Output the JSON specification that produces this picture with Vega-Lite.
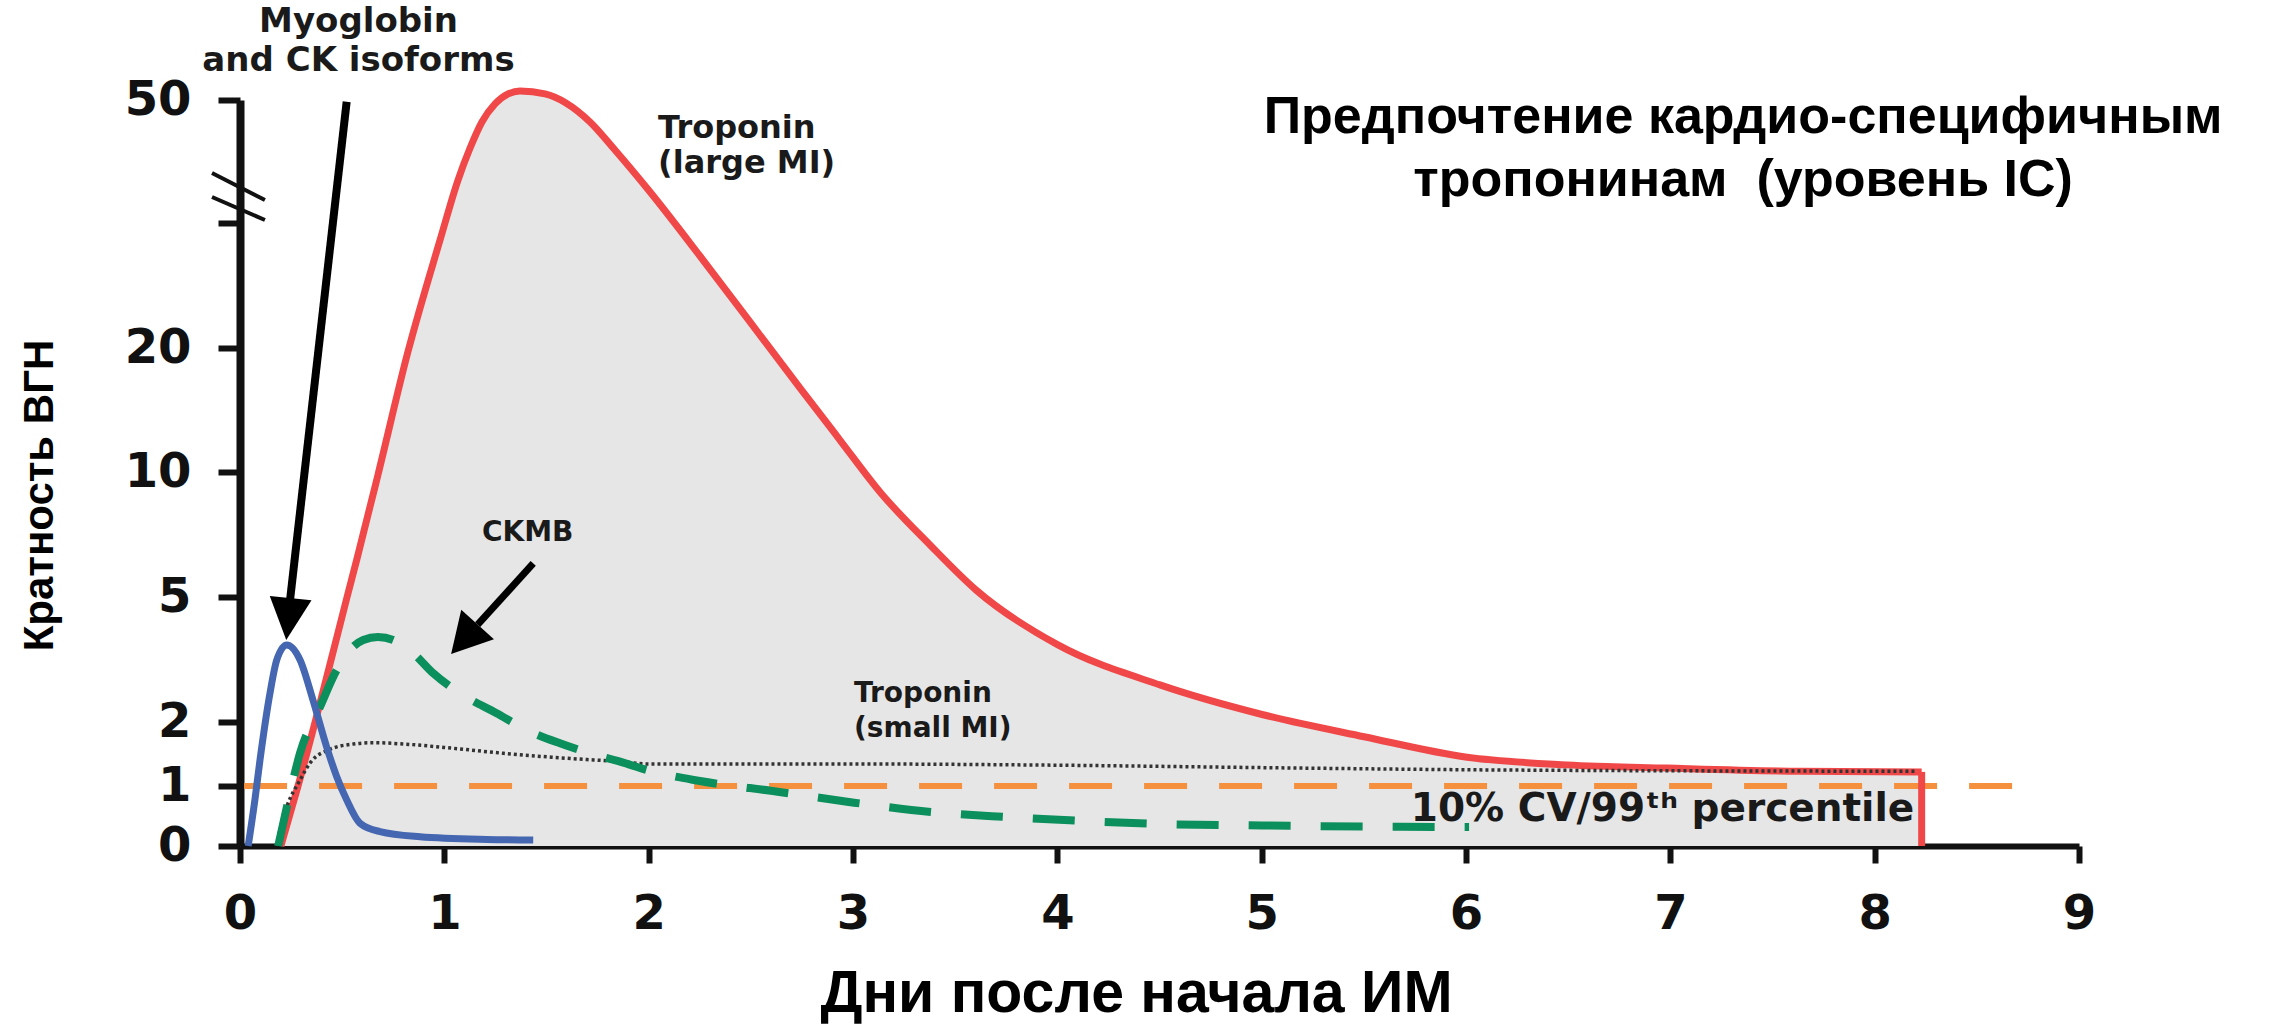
{
  "$schema": "https://vega.github.io/schema/vega-lite/v6.json",
  "width": 1839,
  "height": 746,
  "autosize": {"type": "none"},
  "padding": {"left": 240, "top": 100, "right": 190, "bottom": 180},
  "background": "white",
  "config": {"view": {"stroke": null}},
  "datasets": {
    "curves": [
      {"s": "large", "d": 0.2, "v": 0},
      {"s": "large", "d": 0.284, "v": 1.0},
      {"s": "large", "d": 0.392, "v": 2.46},
      {"s": "large", "d": 0.524, "v": 5.0},
      {"s": "large", "d": 0.571, "v": 6.48},
      {"s": "large", "d": 0.675, "v": 9.88},
      {"s": "large", "d": 0.822, "v": 19.7},
      {"s": "large", "d": 0.979, "v": 33.06},
      {"s": "large", "d": 1.067, "v": 40.32},
      {"s": "large", "d": 1.126, "v": 44.19},
      {"s": "large", "d": 1.184, "v": 47.34},
      {"s": "large", "d": 1.248, "v": 49.52},
      {"s": "large", "d": 1.312, "v": 50.73},
      {"s": "large", "d": 1.37, "v": 51.09},
      {"s": "large", "d": 1.493, "v": 50.73},
      {"s": "large", "d": 1.595, "v": 49.64},
      {"s": "large", "d": 1.713, "v": 47.34},
      {"s": "large", "d": 1.835, "v": 43.95},
      {"s": "large", "d": 2.007, "v": 38.87},
      {"s": "large", "d": 2.251, "v": 31.13},
      {"s": "large", "d": 2.496, "v": 23.15},
      {"s": "large", "d": 2.741, "v": 16.77},
      {"s": "large", "d": 2.936, "v": 12.58},
      {"s": "large", "d": 3.132, "v": 9.2},
      {"s": "large", "d": 3.377, "v": 7.08},
      {"s": "large", "d": 3.602, "v": 5.28},
      {"s": "large", "d": 4.003, "v": 3.85},
      {"s": "large", "d": 4.502, "v": 2.89},
      {"s": "large", "d": 5.002, "v": 2.18},
      {"s": "large", "d": 5.501, "v": 1.77},
      {"s": "large", "d": 6.005, "v": 1.45},
      {"s": "large", "d": 6.494, "v": 1.33},
      {"s": "large", "d": 6.984, "v": 1.28},
      {"s": "large", "d": 7.635, "v": 1.23},
      {"s": "large", "d": 8.23, "v": 1.22},
      {"s": "small", "d": 0.176, "v": 0},
      {"s": "small", "d": 0.229, "v": 0.655},
      {"s": "small", "d": 0.294, "v": 1.094},
      {"s": "small", "d": 0.343, "v": 1.36},
      {"s": "small", "d": 0.44, "v": 1.573},
      {"s": "small", "d": 0.554, "v": 1.656},
      {"s": "small", "d": 0.652, "v": 1.677},
      {"s": "small", "d": 0.799, "v": 1.656},
      {"s": "small", "d": 1.044, "v": 1.589},
      {"s": "small", "d": 1.289, "v": 1.511},
      {"s": "small", "d": 1.533, "v": 1.448},
      {"s": "small", "d": 1.86, "v": 1.38},
      {"s": "small", "d": 2.007, "v": 1.344},
      {"s": "small", "d": 3.005, "v": 1.344},
      {"s": "small", "d": 4.0, "v": 1.325},
      {"s": "small", "d": 5.19, "v": 1.28},
      {"s": "small", "d": 6.17, "v": 1.25},
      {"s": "small", "d": 8.2, "v": 1.23},
      {"s": "ckmb", "d": 0.187, "v": 0},
      {"s": "ckmb", "d": 0.245, "v": 0.883},
      {"s": "ckmb", "d": 0.294, "v": 1.516},
      {"s": "ckmb", "d": 0.392, "v": 2.367},
      {"s": "ckmb", "d": 0.473, "v": 3.248},
      {"s": "ckmb", "d": 0.554, "v": 3.807},
      {"s": "ckmb", "d": 0.603, "v": 3.968},
      {"s": "ckmb", "d": 0.675, "v": 4.04},
      {"s": "ckmb", "d": 0.75, "v": 3.968},
      {"s": "ckmb", "d": 0.848, "v": 3.649},
      {"s": "ckmb", "d": 0.946, "v": 3.169},
      {"s": "ckmb", "d": 1.077, "v": 2.689},
      {"s": "ckmb", "d": 1.256, "v": 2.209},
      {"s": "ckmb", "d": 1.403, "v": 1.875},
      {"s": "ckmb", "d": 1.566, "v": 1.667},
      {"s": "ckmb", "d": 1.713, "v": 1.511},
      {"s": "ckmb", "d": 1.86, "v": 1.38},
      {"s": "ckmb", "d": 2.007, "v": 1.234},
      {"s": "ckmb", "d": 2.251, "v": 1.078},
      {"s": "ckmb", "d": 2.631, "v": 0.905},
      {"s": "ckmb", "d": 3.005, "v": 0.722},
      {"s": "ckmb", "d": 3.38, "v": 0.568},
      {"s": "ckmb", "d": 3.754, "v": 0.483},
      {"s": "ckmb", "d": 4.129, "v": 0.417},
      {"s": "ckmb", "d": 4.502, "v": 0.367},
      {"s": "ckmb", "d": 5.002, "v": 0.342},
      {"s": "ckmb", "d": 5.501, "v": 0.323},
      {"s": "ckmb", "d": 6.015, "v": 0.317},
      {"s": "myo", "d": 0.04, "v": 0},
      {"s": "myo", "d": 0.073, "v": 0.77},
      {"s": "myo", "d": 0.098, "v": 1.41},
      {"s": "myo", "d": 0.147, "v": 2.7},
      {"s": "myo", "d": 0.18, "v": 3.49},
      {"s": "myo", "d": 0.229, "v": 3.85},
      {"s": "myo", "d": 0.294, "v": 3.49},
      {"s": "myo", "d": 0.357, "v": 2.53},
      {"s": "myo", "d": 0.424, "v": 1.61},
      {"s": "myo", "d": 0.473, "v": 1.15},
      {"s": "myo", "d": 0.522, "v": 0.77},
      {"s": "myo", "d": 0.587, "v": 0.38},
      {"s": "myo", "d": 0.685, "v": 0.24},
      {"s": "myo", "d": 0.881, "v": 0.155},
      {"s": "myo", "d": 1.207, "v": 0.11},
      {"s": "myo", "d": 1.435, "v": 0.1}
    ],
    "refline": [{"d": 0.02, "d2": 8.69, "v": 1}],
    "drop": [{"d": 8.23, "v": 1.22, "v2": 0}],
    "breaks": [
      {"d": -0.137, "v": 41.17, "d2": 0.122, "v2": 37.9},
      {"d": -0.137, "v": 38.27, "d2": 0.122, "v2": 35.48}
    ],
    "shafts": [
      {"id": "myo", "d": 0.522, "v": 49.79, "d2": 0.245, "v2": 4.93},
      {"id": "ckmb", "d": 1.435, "v": 6.348, "d2": 1.163, "v2": 4.335}
    ],
    "heads": [
      {"id": "myo", "d": 0.237, "v": 4.472},
      {"id": "ckmb", "d": 1.098, "v": 3.985}
    ],
    "labels": [
      {"g": "big", "t": "Myoglobin", "d": 0.58, "v": 58.2},
      {"g": "big", "t": "and CK isoforms", "d": 0.58, "v": 53.51},
      {"g": "large", "t": "Troponin", "d": 2.046, "v": 45.4},
      {"g": "large", "t": "(large MI)", "d": 2.046, "v": 41.17},
      {"g": "ckmb", "t": "CKMB", "d": 1.184, "v": 7.24},
      {"g": "small", "t": "Troponin", "d": 3.005, "v": 2.48},
      {"g": "small", "t": "(small MI)", "d": 3.005, "v": 1.772},
      {"g": "cv", "t": "10% CV/99ᵗʰ percentile", "d": 5.73, "v": 0.417},
      {"g": "ru", "t": "Предпочтение кардио-специфичным", "d": 7.356, "v": 46.01},
      {"g": "ru", "t": "тропонинам\u00a0 (уровень IC)", "d": 7.356, "v": 38.39}
    ]
  },
  "encoding": {
    "x": {
      "field": "d", "type": "quantitative",
      "scale": {"domain": [0, 9], "nice": false, "zero": false},
      "axis": {
        "values": [0, 1, 2, 3, 4, 5, 6, 7, 8, 9],
        "title": "Дни после начала ИМ",
        "titleFont": "Liberation Sans", "titleFontWeight": "bold", "titleFontSize": 59,
        "titleColor": "#000", "titleX": 896, "titleY": 165,
        "titleAlign": "center", "titleBaseline": "alphabetic",
        "labelFont": "DejaVu Sans", "labelFontWeight": "bold", "labelFontSize": 48,
        "labelColor": "#111", "labelPadding": 27, "labelFlush": false, "labelOverlap": false,
        "tickSize": 17, "tickWidth": 6, "tickColor": "#111",
        "domainColor": "#111", "domainWidth": 6, "grid": false
      }
    },
    "y": {
      "field": "v", "type": "quantitative",
      "scale": {"domain": [0, 1, 2, 5, 10, 20, 50], "range": [746, 686, 622, 497, 372, 248, 0], "nice": false, "zero": false},
      "axis": {
        "values": [0, 1, 2, 5, 10, 20, 35.12, 50],
        "labelExpr": "datum.value > 30 && datum.value < 40 ? '' : datum.label",
        "title": "Кратность ВГН",
        "titleFont": "Liberation Sans", "titleFontWeight": "bold", "titleFontSize": 42,
        "titleColor": "#000", "titleX": -188, "titleY": 395, "titleAngle": 270,
        "titleAlign": "center", "titleBaseline": "alphabetic",
        "labelFont": "DejaVu Sans", "labelFontWeight": "bold", "labelFontSize": 48,
        "labelColor": "#111", "labelPadding": 27, "labelFlush": false, "labelOverlap": false,
        "tickSize": 22, "tickWidth": 6, "tickColor": "#111",
        "domainColor": "#111", "domainWidth": 8, "grid": false
      }
    }
  },
  "layer": [
    {
      "data": {"name": "curves"},
      "transform": [{"filter": "datum.s === 'large'"}],
      "mark": {"type": "area", "interpolate": "monotone", "color": "#e6e6e6"}
    },
    {
      "data": {"name": "refline"},
      "mark": {"type": "rule", "color": "#f5913e", "strokeWidth": 6, "strokeDash": [43, 32]},
      "encoding": {"x2": {"field": "d2"}}
    },
    {
      "data": {"name": "curves"},
      "transform": [{"filter": "datum.s === 'large'"}],
      "mark": {"type": "line", "interpolate": "monotone", "color": "#f04848", "strokeWidth": 7}
    },
    {
      "data": {"name": "drop"},
      "mark": {"type": "rule", "color": "#f04848", "strokeWidth": 7},
      "encoding": {"y2": {"field": "v2"}}
    },
    {
      "data": {"name": "curves"},
      "transform": [{"filter": "datum.s === 'small'"}],
      "mark": {"type": "line", "interpolate": "monotone", "color": "#333333", "strokeWidth": 3.5, "strokeDash": [3, 3]}
    },
    {
      "data": {"name": "curves"},
      "transform": [{"filter": "datum.s === 'ckmb'"}],
      "mark": {"type": "line", "interpolate": "monotone", "color": "#0b8f5c", "strokeWidth": 8, "strokeDash": [42, 30]}
    },
    {
      "data": {"name": "curves"},
      "transform": [{"filter": "datum.s === 'myo'"}],
      "mark": {"type": "line", "interpolate": "monotone", "color": "#4566b0", "strokeWidth": 7}
    },
    {
      "data": {"name": "breaks"},
      "mark": {"type": "rule", "color": "#111", "strokeWidth": 4},
      "encoding": {"x2": {"field": "d2"}, "y2": {"field": "v2"}}
    },
    {
      "data": {"name": "shafts"},
      "transform": [{"filter": "datum.id === 'myo'"}],
      "mark": {"type": "rule", "color": "#000", "strokeWidth": 8},
      "encoding": {"x2": {"field": "d2"}, "y2": {"field": "v2"}}
    },
    {
      "data": {"name": "shafts"},
      "transform": [{"filter": "datum.id === 'ckmb'"}],
      "mark": {"type": "rule", "color": "#000", "strokeWidth": 7},
      "encoding": {"x2": {"field": "d2"}, "y2": {"field": "v2"}}
    },
    {
      "data": {"name": "heads"},
      "transform": [{"filter": "datum.id === 'myo'"}],
      "mark": {"type": "point", "shape": "M-1,-1L1,-1L0,1Z", "filled": true, "color": "#000", "opacity": 1, "size": 1764, "angle": 6}
    },
    {
      "data": {"name": "heads"},
      "transform": [{"filter": "datum.id === 'ckmb'"}],
      "mark": {"type": "point", "shape": "M-1,-0.9L1,-0.9L0,0.9Z", "filled": true, "color": "#000", "opacity": 1, "size": 1936, "angle": 42}
    },
    {
      "data": {"name": "labels"},
      "transform": [{"filter": "datum.g === 'big'"}],
      "mark": {"type": "text", "font": "DejaVu Sans", "fontWeight": "bold", "fontSize": 34, "align": "center", "baseline": "alphabetic", "color": "#1a1a1a"},
      "encoding": {"text": {"field": "t"}}
    },
    {
      "data": {"name": "labels"},
      "transform": [{"filter": "datum.g === 'large'"}],
      "mark": {"type": "text", "font": "DejaVu Sans", "fontWeight": "bold", "fontSize": 32, "align": "left", "baseline": "alphabetic", "color": "#1a1a1a"},
      "encoding": {"text": {"field": "t"}}
    },
    {
      "data": {"name": "labels"},
      "transform": [{"filter": "datum.g === 'ckmb'"}],
      "mark": {"type": "text", "font": "DejaVu Sans", "fontWeight": "bold", "fontSize": 28, "align": "left", "baseline": "alphabetic", "color": "#1a1a1a"},
      "encoding": {"text": {"field": "t"}}
    },
    {
      "data": {"name": "labels"},
      "transform": [{"filter": "datum.g === 'small'"}],
      "mark": {"type": "text", "font": "DejaVu Sans", "fontWeight": "bold", "fontSize": 28, "align": "left", "baseline": "alphabetic", "color": "#1a1a1a"},
      "encoding": {"text": {"field": "t"}}
    },
    {
      "data": {"name": "labels"},
      "transform": [{"filter": "datum.g === 'cv'"}],
      "mark": {"type": "text", "font": "DejaVu Sans", "fontWeight": "bold", "fontSize": 39, "align": "left", "baseline": "alphabetic", "color": "#1a1a1a"},
      "encoding": {"text": {"field": "t"}}
    },
    {
      "data": {"name": "labels"},
      "transform": [{"filter": "datum.g === 'ru'"}],
      "mark": {"type": "text", "font": "Liberation Sans", "fontWeight": "bold", "fontSize": 52, "align": "center", "baseline": "alphabetic", "color": "#000"},
      "encoding": {"text": {"field": "t"}}
    }
  ]
}
